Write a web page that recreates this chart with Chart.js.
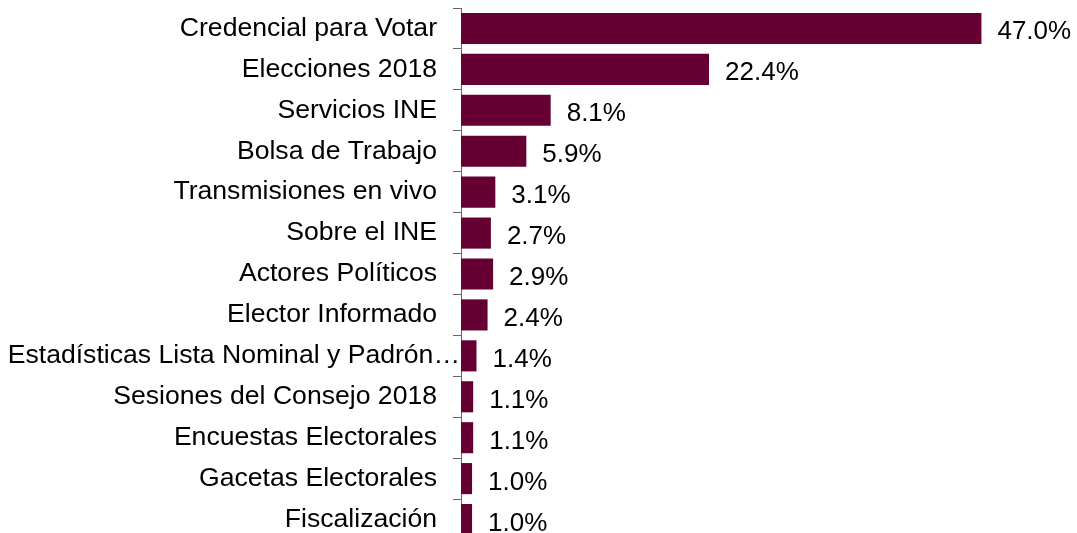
<!DOCTYPE html>
<html>
<head>
<meta charset="utf-8">
<script src="https://cdn.jsdelivr.net/npm/chart.js@4/dist/chart.umd.min.js"></script>
<style>
  html, body { margin: 0; padding: 0; background: #fff; overflow: hidden; }
  #wrap { position: absolute; left: 0; top: 0; width: 1077px; height: 540px; }
</style>
</head>
<body>
<div id="wrap"><canvas id="chart"></canvas></div>
<script>
// Chart data
const categories = [
  'Credencial para Votar',
  'Elecciones 2018',
  'Servicios INE',
  'Bolsa de Trabajo',
  'Transmisiones en vivo',
  'Sobre el INE',
  'Actores Políticos',
  'Elector Informado',
  'Estadísticas Lista Nominal y Padrón…',
  'Sesiones del Consejo 2018',
  'Encuestas Electorales',
  'Gacetas Electorales',
  'Fiscalización'
];
const shares = [47.0, 22.4, 8.1, 5.9, 3.1, 2.7, 2.9, 2.4, 1.4, 1.1, 1.1, 1.0, 1.0];

const FAMILY = '"Liberation Sans", Arial, sans-serif';
const CAT_FONT = { family: FAMILY, size: 26.6 };
const VALUE_SIZE = 26;
const BAR_COLOR = '#660033';
const AXIS_COLOR = '#666666';
const LONG_LABEL = 8; // this one is clipped with an ellipsis and sits against the axis

// value labels at the end of each bar
const valueLabels = {
  id: 'valueLabels',
  afterDatasetsDraw(chart) {
    const ctx = chart.ctx;
    const meta = chart.getDatasetMeta(0);
    ctx.save();
    ctx.font = VALUE_SIZE + 'px ' + FAMILY;
    ctx.fillStyle = '#000';
    ctx.textAlign = 'left';
    ctx.textBaseline = 'alphabetic';
    meta.data.forEach((bar, i) => {
      ctx.fillText(shares[i].toFixed(1) + '%', bar.x + 16, bar.y + 11);
    });
    ctx.restore();
  }
};

// the long category label is drawn right against the axis line
const longLabel = {
  id: 'longLabel',
  afterDraw(chart) {
    const ctx = chart.ctx;
    const y = chart.scales.y.getPixelForValue(LONG_LABEL);
    ctx.save();
    ctx.font = CAT_FONT.size + 'px ' + FAMILY;
    ctx.fillStyle = '#000';
    ctx.textAlign = 'right';
    ctx.textBaseline = 'middle';
    ctx.fillText(categories[LONG_LABEL], chart.chartArea.left - 1, y);
    ctx.restore();
  }
};

new Chart(document.getElementById('chart'), {
  type: 'bar',
  data: {
    labels: categories,
    datasets: [{
      data: shares,
      backgroundColor: BAR_COLOR,
      borderWidth: 0,
      barPercentage: 0.76,
      categoryPercentage: 1.0
    }]
  },
  options: {
    indexAxis: 'y',
    responsive: true,
    maintainAspectRatio: false,
    animation: false,
    layout: { padding: { top: 8, right: 7, bottom: 0, left: 0 } },
    plugins: { legend: { display: false }, tooltip: { enabled: false } },
    scales: {
      x: { display: false, min: 0, max: 55 },
      y: {
        afterFit(scale) {
          scale.width = 461;
          scale.paddingTop = 0;
          scale.paddingBottom = 0;
        },
        grid: {
          drawOnChartArea: false,
          drawTicks: true,
          tickLength: 8,
          color: AXIS_COLOR,
          offset: true
        },
        border: { display: true, color: AXIS_COLOR, width: 1 },
        ticks: {
          font: CAT_FONT,
          color: ctx => ctx.index === LONG_LABEL ? 'rgba(0,0,0,0)' : '#000',
          padding: 16,
          autoSkip: false
        }
      }
    }
  },
  plugins: [valueLabels, longLabel]
});
</script>
</body>
</html>
